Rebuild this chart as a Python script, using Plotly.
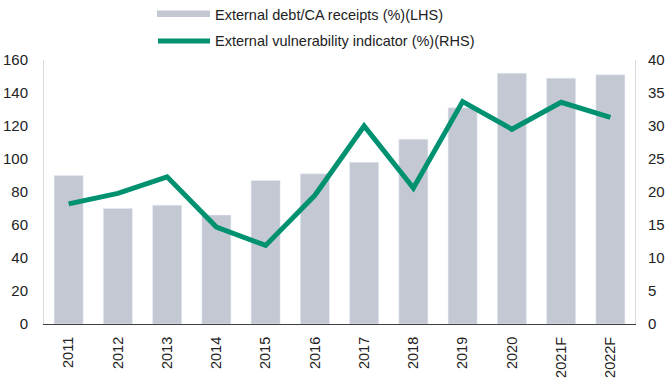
import plotly.graph_objects as go

# Data
years = ["2011", "2012", "2013", "2014", "2015", "2016", "2017", "2018",
         "2019", "2020", "2021F", "2022F"]
ext_debt_ca = [90, 70, 72, 66, 87, 91, 98, 112, 131, 152, 149, 151]
vuln_indicator = [18.2, 19.8, 22.3, 14.7, 11.9, 19.5, 30.0, 20.6, 33.7, 29.5, 33.6, 31.3]

bar_name = "External debt/CA receipts (%)(LHS)"
line_name = "External vulnerability indicator (%)(RHS)"

BAR_COLOR = "#C4C8D3"
LINE_COLOR = "#009270"
FONT = "Liberation Sans, Arial, sans-serif"

W, H = 667, 381
ML, MR, MT, MB = 44, 32, 60, 57

fig = go.Figure()
fig.add_trace(go.Bar(x=years, y=ext_debt_ca, name=bar_name, marker_color=BAR_COLOR,
                     showlegend=False, yaxis="y"))
fig.add_trace(go.Scatter(x=years, y=vuln_indicator, name=line_name, mode="lines",
                         line=dict(color=LINE_COLOR, width=5), showlegend=False,
                         yaxis="y2"))

# pixel -> paper helpers for the hand-built legend
pw, ph = W - ML - MR, H - MT - MB
def px(x):
    return (x - ML) / pw
def py(y):
    return (H - MB - y) / ph

shapes = [
    dict(type="rect", xref="paper", yref="paper", x0=px(157), x1=px(210),
         y0=py(17), y1=py(10.5), fillcolor=BAR_COLOR, line=dict(width=0)),
    dict(type="line", xref="paper", yref="paper", x0=px(158), x1=px(210),
         y0=py(41), y1=py(41), line=dict(color=LINE_COLOR, width=5)),
]
annotations = [
    dict(xref="paper", yref="paper", x=px(213), y=py(15), text=bar_name,
         showarrow=False, xanchor="left", yanchor="middle",
         font=dict(family=FONT, size=14.5, color="#222222")),
    dict(xref="paper", yref="paper", x=px(213), y=py(41), text=line_name,
         showarrow=False, xanchor="left", yanchor="middle",
         font=dict(family=FONT, size=14.5, color="#222222")),
]

fig.update_layout(
    width=W, height=H,
    margin=dict(l=ML, r=MR, t=MT, b=MB, pad=0, autoexpand=False),
    paper_bgcolor="white", plot_bgcolor="white",
    font=dict(family=FONT, size=14, color="#222222"),
    bargap=0.41,
    shapes=shapes, annotations=annotations,
    xaxis=dict(type="category", tickangle=-90, showline=True, linecolor="#404040",
               linewidth=1, ticks="", showgrid=False, ticklabelstandoff=6,
               automargin=False, tickfont=dict(size=14.5)),
    yaxis=dict(range=[0, 160], dtick=20, showgrid=False, zeroline=False,
               showline=True, linecolor="#DCDCDC", linewidth=1, ticks="",
               automargin=False, ticklabelstandoff=12, tickfont=dict(size=15)),
    yaxis2=dict(range=[0, 40], dtick=5, overlaying="y", side="right", showgrid=False,
                zeroline=False, showline=True, linecolor="#DCDCDC", linewidth=1,
                automargin=False, ticks="", ticklabelstandoff=9, tickfont=dict(size=15)),
)

fig.write_html("out.html")
